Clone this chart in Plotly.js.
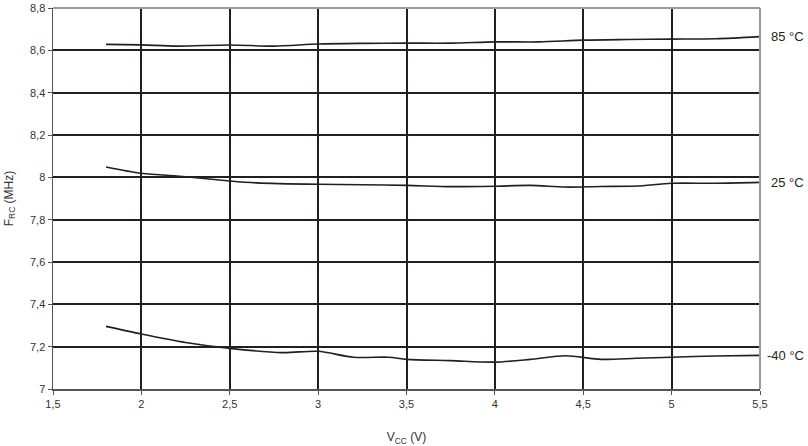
<!DOCTYPE html>
<html>
<head>
<meta charset="utf-8">
<script src="https://cdn.plot.ly/plotly-3.0.1.min.js"></script>
<style>html,body{margin:0;padding:0;background:#fff}#chart{width:808px;height:446px}</style>
</head>
<body>
<div id="chart"></div>
<script>
const xTicks = [1.5, 2, 2.5, 3, 3.5, 4, 4.5, 5, 5.5];
const xTickText = ["1,5", "2", "2,5", "3", "3,5", "4", "4,5", "5", "5,5"];
const yTicks = [7, 7.2, 7.4, 7.6, 7.8, 8, 8.2, 8.4, 8.6, 8.8];
const yTickText = ["7", "7,2", "7,4", "7,6", "7,8", "8", "8,2", "8,4", "8,6", "8,8"];

const seriesNames = ["85 °C", "25 °C", "-40 °C"];

const vcc85 = [1.8, 2.0, 2.2, 2.5, 2.75, 3.0, 3.25, 3.5, 3.75, 4.0, 4.25, 4.5, 4.75, 5.0, 5.25, 5.5];
const f85 = [8.628, 8.626, 8.620, 8.625, 8.620, 8.630, 8.633, 8.634, 8.634, 8.640, 8.640, 8.648, 8.651, 8.653, 8.655, 8.665];

const vcc25 = [1.8, 2.0, 2.25, 2.5, 2.65, 3.0, 3.25, 3.5, 3.75, 4.0, 4.2, 4.4, 4.6, 4.8, 5.0, 5.25, 5.5];
const f25 = [8.049, 8.019, 8.003, 7.983, 7.974, 7.967, 7.965, 7.962, 7.956, 7.958, 7.962, 7.954, 7.957, 7.959, 7.972, 7.972, 7.976];

const vccM40 = [1.8, 2.0, 2.25, 2.5, 2.8, 3.0, 3.2, 3.4, 3.5, 3.75, 4.0, 4.2, 4.4, 4.6, 4.8, 5.0, 5.25, 5.5];
const fM40 = [7.296, 7.26, 7.22, 7.192, 7.172, 7.178, 7.15, 7.15, 7.14, 7.134, 7.127, 7.14, 7.157, 7.14, 7.145, 7.15, 7.156, 7.159];

const xs = [vcc85, vcc25, vccM40];
const ys = [f85, f25, fM40];

const lineColor = "#231f20";
const traces = xs.map((x, i) => ({
  x: x, y: ys[i], type: "scatter", mode: "lines", name: seriesNames[i],
  line: {color: lineColor, width: 1.6, shape: "spline", smoothing: 0.8},
  hoverinfo: "skip", showlegend: false
}));

const annotations = seriesNames.map((n, i) => ({
  text: n, xref: "paper", yref: "y", x: 1, xanchor: "right", xshift: 46,
  y: ys[i][ys[i].length - 1], yanchor: "middle", showarrow: false,
  font: {family: "Liberation Sans, Arial, sans-serif", size: 13, color: lineColor}
}));

const layout = {
  width: 808, height: 446,
  margin: {l: 52.5, r: 48, t: 8, b: 57},
  paper_bgcolor: "#fff", plot_bgcolor: "#fff",
  font: {family: "Liberation Sans, Arial, sans-serif", size: 11, color: "#333"},
  xaxis: {
    range: [1.5, 5.5], tickmode: "array", tickvals: xTicks, ticktext: xTickText,
    showgrid: true, gridcolor: lineColor, gridwidth: 2, zeroline: false,
    showline: true, linecolor: "#555", linewidth: 1.5,
    ticks: "outside", ticklen: 4, tickcolor: "#555",
    title: {text: "V<sub>CC</sub> (V)", font: {size: 12, color: "#333"}, standoff: 24}
  },
  yaxis: {
    range: [7, 8.8], tickmode: "array", tickvals: yTicks, ticktext: yTickText,
    showgrid: true, gridcolor: lineColor, gridwidth: 2, zeroline: false,
    showline: true, linecolor: "#555", linewidth: 1.5,
    ticks: "outside", ticklen: 4, tickcolor: "#555",
    title: {text: "F<sub>RC</sub> (MHz)", font: {size: 12, color: "#333"}, standoff: 14}
  },
  shapes: [
    {type: "line", xref: "paper", yref: "paper", x0: 0, x1: 1, y0: 1, y1: 1, line: {color: "#9a9a9a", width: 2}, layer: "above"},
    {type: "line", xref: "paper", yref: "paper", x0: 1, x1: 1, y0: 0, y1: 1, line: {color: "#9a9a9a", width: 2}, layer: "above"}
  ],
  annotations: annotations
};

Plotly.newPlot("chart", traces, layout, {staticPlot: true, displayModeBar: false});
</script>
</body>
</html>
